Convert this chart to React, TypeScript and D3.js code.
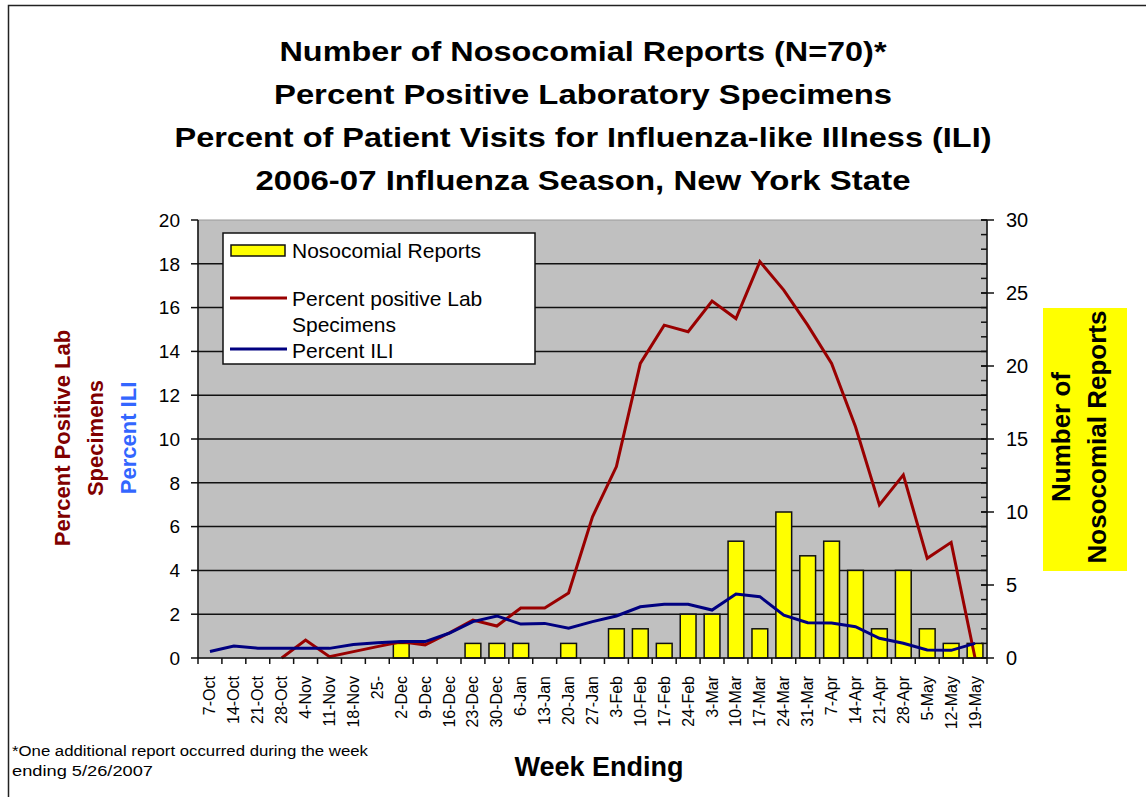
import { useEffect, useRef } from "react";
import * as d3 from "d3";

// week ending labels (as printed on the axis)
const weeks = [
  "7-Oct", "14-Oct", "21-Oct", "28-Oct", "4-Nov", "11-Nov", "18-Nov", "25-",
  "2-Dec", "9-Dec", "16-Dec", "23-Dec", "30-Dec", "6-Jan", "13-Jan", "20-Jan",
  "27-Jan", "3-Feb", "10-Feb", "17-Feb", "24-Feb", "3-Mar", "10-Mar", "17-Mar",
  "24-Mar", "31-Mar", "7-Apr", "14-Apr", "21-Apr", "28-Apr", "5-May", "12-May",
  "19-May",
];

// number of nosocomial reports per week (right axis)
const nosocomialReports = [
  0, 0, 0, 0, 0, 0, 0, 0, 1, 0, 0, 1, 1, 1, 0, 1,
  0, 2, 2, 1, 3, 3, 8, 2, 10, 7, 8, 6, 2, 6, 2, 1, 1,
];

// percent positive lab specimens (left axis)
const percentPositiveLab = [
  null, null, null, 0, 0.82, 0.06, 0.29, 0.52, 0.74, 0.6, 1.14, 1.73, 1.46,
  2.28, 2.28, 2.97, 6.45, 8.74, 13.45, 15.2, 14.9, 16.3, 15.5, 18.1, 16.8,
  15.2, 13.45, 10.56, 6.99, 8.36, 4.55, 5.28, 0,
];

// percent ILI (left axis)
const percentILI = [
  0.3, 0.55, 0.45, 0.45, 0.45, 0.44, 0.62, 0.7, 0.75, 0.75, 1.13, 1.66, 1.92,
  1.55, 1.58, 1.36, 1.66, 1.92, 2.34, 2.45, 2.45, 2.19, 2.92, 2.8, 1.96, 1.61,
  1.6, 1.43, 0.9, 0.67, 0.37, 0.35, 0.67,
];

const leftTicks = [0, 2, 4, 6, 8, 10, 12, 14, 16, 18, 20];
const rightTicks = [0, 5, 10, 15, 20, 25, 30];

const titleLines = [
  "Number of Nosocomial Reports (N=70)*",
  "Percent Positive Laboratory Specimens",
  "Percent of Patient Visits for Influenza-like Illness (ILI)",
  "2006-07 Influenza Season, New York State",
];
// printed widths of the title lines in the original
const titleWidths = [607, 618, 817, 655];

const footnoteLines = [
  "*One additional report occurred during the week",
  "ending 5/26/2007",
];
const footnoteWidths = [356, 141];

const FONT = "'Liberation Sans', Arial, sans-serif";
const RED = "#990000";
const NAVY = "#000080";

function App() {
  const ref = useRef<SVGSVGElement>(null);

  useEffect(() => {
    const svg = d3.select(ref.current);
    svg.selectAll("*").remove();

    const width = 1146;
    const height = 797;
    const plot = { left: 198, right: 987, top: 220, bottom: 658 };

    const x = d3.scaleBand().domain(weeks).range([plot.left, plot.right]).padding(0);
    const yLeft = d3.scaleLinear().domain([0, 20]).range([plot.bottom, plot.top]);
    const yRight = d3.scaleLinear().domain([0, 30]).range([plot.bottom, plot.top]);
    const cx = (w: string) => (x(w) as number) + x.bandwidth() / 2;

    svg.append("rect").attr("width", width).attr("height", height).attr("fill", "#fff");

    // chart border (only top/left fall inside the picture)
    svg
      .append("rect")
      .attr("x", 8.5)
      .attr("y", 5.5)
      .attr("width", 1200)
      .attr("height", 900)
      .attr("fill", "none")
      .attr("stroke", "#222")
      .attr("stroke-width", 1.5);

    // title
    svg
      .append("g")
      .selectAll("text")
      .data(titleLines)
      .enter()
      .append("text")
      .attr("x", (d, i) => 583 - titleWidths[i] / 2)
      .attr("y", (d, i) => 61 + i * 43)
      .attr("textLength", (d, i) => titleWidths[i])
      .attr("lengthAdjust", "spacingAndGlyphs")
      .attr("font-family", FONT)
      .attr("font-size", 28)
      .attr("font-weight", "bold")
      .text((d) => d);

    // plot area
    svg
      .append("rect")
      .attr("x", plot.left)
      .attr("y", plot.top)
      .attr("width", plot.right - plot.left)
      .attr("height", plot.bottom - plot.top)
      .attr("fill", "#c0c0c0")
      .attr("stroke", "#9a9a9a");

    // gridlines
    svg
      .append("g")
      .selectAll("line")
      .data(leftTicks.filter((t) => t > 0 && t < 20))
      .enter()
      .append("line")
      .attr("x1", plot.left)
      .attr("x2", plot.right)
      .attr("y1", (d) => yLeft(d))
      .attr("y2", (d) => yLeft(d))
      .attr("stroke", "#111")
      .attr("stroke-width", 1.5);

    // bars
    svg
      .append("g")
      .selectAll("rect")
      .data(weeks.map((w, i) => ({ w, v: nosocomialReports[i] })).filter((d) => d.v > 0))
      .enter()
      .append("rect")
      .attr("x", (d) => cx(d.w) - x.bandwidth() * 0.33)
      .attr("width", x.bandwidth() * 0.66)
      .attr("y", (d) => yRight(d.v))
      .attr("height", (d) => plot.bottom - yRight(d.v))
      .attr("fill", "#ffff00")
      .attr("stroke", "#111")
      .attr("stroke-width", 1.5);

    // lines
    const line = d3
      .line<number | null>()
      .defined((d) => d != null)
      .x((d, i) => cx(weeks[i]))
      .y((d) => yLeft(d as number));

    svg
      .append("path")
      .datum(percentPositiveLab)
      .attr("d", line)
      .attr("fill", "none")
      .attr("stroke", RED)
      .attr("stroke-width", 3);

    svg
      .append("path")
      .datum(percentILI)
      .attr("d", line)
      .attr("fill", "none")
      .attr("stroke", NAVY)
      .attr("stroke-width", 3);

    // left axis
    const left = svg.append("g");
    left
      .append("line")
      .attr("x1", plot.left)
      .attr("x2", plot.left)
      .attr("y1", plot.top)
      .attr("y2", plot.bottom)
      .attr("stroke", "#111")
      .attr("stroke-width", 1.5);
    left
      .selectAll("line.tick")
      .data(leftTicks)
      .enter()
      .append("line")
      .attr("class", "tick")
      .attr("x1", plot.left - 7)
      .attr("x2", plot.left)
      .attr("y1", (d) => yLeft(d))
      .attr("y2", (d) => yLeft(d))
      .attr("stroke", "#111")
      .attr("stroke-width", 1.5);
    left
      .selectAll("text")
      .data(leftTicks)
      .enter()
      .append("text")
      .attr("x", 180)
      .attr("y", (d) => yLeft(d))
      .attr("dy", "0.36em")
      .attr("text-anchor", "end")
      .attr("font-family", FONT)
      .attr("font-size", 19)
      .text((d) => d);

    // right axis
    const right = svg.append("g");
    right
      .append("line")
      .attr("x1", plot.right)
      .attr("x2", plot.right)
      .attr("y1", plot.top)
      .attr("y2", plot.bottom)
      .attr("stroke", "#111")
      .attr("stroke-width", 1.5);
    right
      .selectAll("line.minor")
      .data(d3.range(0, 31))
      .enter()
      .append("line")
      .attr("class", "minor")
      .attr("x1", plot.right - 6)
      .attr("x2", plot.right)
      .attr("y1", (d) => yRight(d))
      .attr("y2", (d) => yRight(d))
      .attr("stroke", "#111")
      .attr("stroke-width", 1.5);
    right
      .selectAll("line.major")
      .data(rightTicks)
      .enter()
      .append("line")
      .attr("class", "major")
      .attr("x1", plot.right - 6)
      .attr("x2", plot.right + 7)
      .attr("y1", (d) => yRight(d))
      .attr("y2", (d) => yRight(d))
      .attr("stroke", "#111")
      .attr("stroke-width", 1.5);
    right
      .selectAll("text")
      .data(rightTicks)
      .enter()
      .append("text")
      .attr("x", 1006)
      .attr("y", (d) => yRight(d))
      .attr("dy", "0.36em")
      .attr("font-family", FONT)
      .attr("font-size", 20)
      .text((d) => d);

    // x axis
    const bottom = svg.append("g");
    bottom
      .append("line")
      .attr("x1", plot.left)
      .attr("x2", plot.right)
      .attr("y1", plot.bottom)
      .attr("y2", plot.bottom)
      .attr("stroke", "#111")
      .attr("stroke-width", 1.5);
    bottom
      .selectAll("line.tick")
      .data(d3.range(weeks.length + 1))
      .enter()
      .append("line")
      .attr("class", "tick")
      .attr("x1", (i) => plot.left + i * x.bandwidth())
      .attr("x2", (i) => plot.left + i * x.bandwidth())
      .attr("y1", plot.bottom)
      .attr("y2", plot.bottom + 6)
      .attr("stroke", "#111")
      .attr("stroke-width", 1.5);
    bottom
      .selectAll("text")
      .data(weeks)
      .enter()
      .append("text")
      .attr("transform", (d) => `translate(${cx(d)},676) rotate(-90)`)
      .attr("text-anchor", "end")
      .attr("dominant-baseline", "central")
      .attr("font-family", FONT)
      .attr("font-size", 16)
      .text((d) => d);

    // legend
    const legend = svg.append("g");
    legend
      .append("rect")
      .attr("x", 223)
      .attr("y", 233)
      .attr("width", 312)
      .attr("height", 131)
      .attr("fill", "#fff")
      .attr("stroke", "#111")
      .attr("stroke-width", 1.5);
    legend
      .append("rect")
      .attr("x", 231)
      .attr("y", 245)
      .attr("width", 54)
      .attr("height", 11)
      .attr("fill", "#ffff00")
      .attr("stroke", "#111")
      .attr("stroke-width", 1.5);
    legend
      .append("line")
      .attr("x1", 230)
      .attr("x2", 287)
      .attr("y1", 298)
      .attr("y2", 298)
      .attr("stroke", RED)
      .attr("stroke-width", 3);
    legend
      .append("line")
      .attr("x1", 230)
      .attr("x2", 287)
      .attr("y1", 349)
      .attr("y2", 349)
      .attr("stroke", NAVY)
      .attr("stroke-width", 3);
    const legendTexts = [
      { t: "Nosocomial Reports", y: 250 },
      { t: "Percent positive Lab", y: 298 },
      { t: "Specimens", y: 324 },
      { t: "Percent ILI", y: 350 },
    ];
    legend
      .selectAll("text")
      .data(legendTexts)
      .enter()
      .append("text")
      .attr("x", 292)
      .attr("y", (d) => d.y)
      .attr("dy", "0.36em")
      .attr("font-family", FONT)
      .attr("font-size", 21)
      .text((d) => d.t);

    // left axis title
    const leftTitle = [
      { t: "Percent Positive Lab", x: 62, c: "#800000" },
      { t: "Specimens", x: 95, c: "#800000" },
      { t: "Percent ILI", x: 128, c: "#3366ff" },
    ];
    svg
      .append("g")
      .selectAll("text")
      .data(leftTitle)
      .enter()
      .append("text")
      .attr("transform", (d) => `translate(${d.x},438) rotate(-90)`)
      .attr("text-anchor", "middle")
      .attr("dominant-baseline", "central")
      .attr("font-family", FONT)
      .attr("font-size", 22)
      .attr("font-weight", "bold")
      .attr("fill", (d) => d.c)
      .text((d) => d.t);

    // right axis title on yellow
    svg
      .append("rect")
      .attr("x", 1043)
      .attr("y", 308)
      .attr("width", 84)
      .attr("height", 263)
      .attr("fill", "#ffff00");
    const rightTitle = [
      { t: "Number of", x: 1061 },
      { t: "Nosocomial Reports", x: 1097 },
    ];
    svg
      .append("g")
      .selectAll("text")
      .data(rightTitle)
      .enter()
      .append("text")
      .attr("transform", (d) => `translate(${d.x},437) rotate(-90)`)
      .attr("text-anchor", "middle")
      .attr("dominant-baseline", "central")
      .attr("font-family", FONT)
      .attr("font-size", 26)
      .attr("font-weight", "bold")
      .text((d) => d.t);

    // x axis title
    svg
      .append("text")
      .attr("x", 599)
      .attr("y", 776)
      .attr("text-anchor", "middle")
      .attr("font-family", FONT)
      .attr("font-size", 27)
      .attr("font-weight", "bold")
      .text("Week Ending");

    // footnote
    svg
      .append("g")
      .selectAll("text")
      .data(footnoteLines)
      .enter()
      .append("text")
      .attr("x", 12)
      .attr("y", (d, i) => 756 + i * 20)
      .attr("textLength", (d, i) => footnoteWidths[i])
      .attr("lengthAdjust", "spacingAndGlyphs")
      .attr("font-family", FONT)
      .attr("font-size", 14)
      .text((d) => d);
  }, []);

  return (
    <svg
      ref={ref}
      width={1146}
      height={797}
      style={{ position: "absolute", left: 0, top: 0 }}
    />
  );
}

export default App;
